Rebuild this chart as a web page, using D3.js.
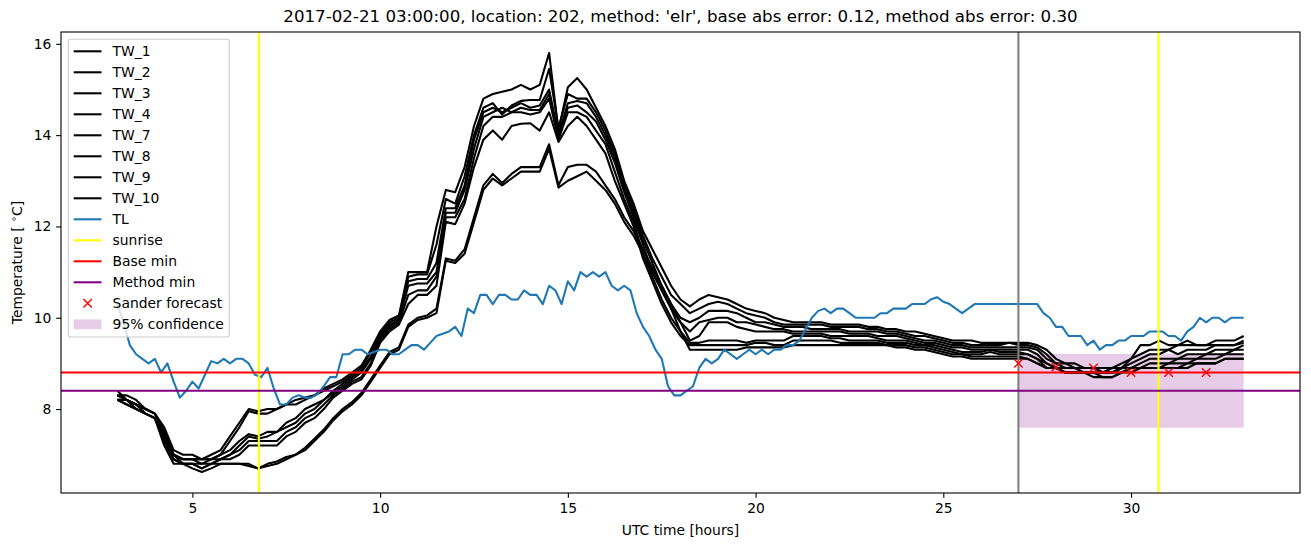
<!DOCTYPE html>
<html><head><meta charset="utf-8">
<script src="https://cdn.jsdelivr.net/npm/d3@7"></script>
<style>body{margin:0;background:#fff;} text{font-family:"DejaVu Sans",sans-serif;fill:#000;}</style>
</head><body><svg id="c" width="1311" height="547"></svg>
<script>
// ---- data ----
const titleText = "2017-02-21 03:00:00, location: 202, method: 'elr', base abs error: 0.12, method abs error: 0.30";
// TL: 10-minute steps from 3:00 to 33:00
const tlValues = [
 10.3,9.9,9.4,9.2,9.1,9.0,
 9.1,8.8,9.0,8.6,8.25,8.4,
 8.6,8.45,8.75,9.05,9.0,9.1,
 9.0,9.1,9.1,9.0,8.75,8.7,
 8.9,8.45,8.1,8.1,8.25,8.3,
 8.25,8.25,8.33,8.5,8.7,8.7,
 9.2,9.2,9.3,9.3,9.2,9.25,
 9.3,9.3,9.2,9.2,9.3,9.4,
 9.4,9.3,9.45,9.6,9.65,9.7,
 9.8,9.6,10.2,10.1,10.5,10.5,
 10.3,10.5,10.5,10.4,10.4,10.6,
 10.5,10.5,10.3,10.7,10.6,10.3,
 10.8,10.6,11.0,10.9,11.0,10.9,
 11.0,10.7,10.6,10.7,10.6,10.1,
 9.8,9.6,9.3,9.1,8.5,8.3,
 8.3,8.4,8.5,8.9,9.1,9.0,
 9.1,9.3,9.2,9.1,9.2,9.3,
 9.2,9.3,9.2,9.3,9.3,9.4,
 9.4,9.5,9.75,10.0,10.15,10.2,
 10.1,10.2,10.2,10.1,10.0,10.0,
 10.0,10.0,10.1,10.1,10.2,10.2,
 10.2,10.3,10.3,10.3,10.4,10.45,
 10.35,10.3,10.2,10.1,10.2,10.3,
 10.3,10.3,10.3,10.3,10.3,10.3,
 10.3,10.3,10.3,10.3,10.1,10.0,
 9.8,9.8,9.6,9.6,9.6,9.4,
 9.5,9.3,9.4,9.4,9.5,9.5,
 9.6,9.6,9.6,9.7,9.7,9.7,
 9.6,9.6,9.5,9.7,9.8,10.0,
 9.9,10.0,10.0,9.9,10.0,10.0,
 10.0];
// TW series: 15-minute steps from 3:00 to 33:00 (one row = one hour)
const tw1 = [
 8.3,8.2,8.1,8.0, 7.9,7.5,7.0,6.9, 6.9,6.9,7.0,7.1, 7.4,7.7,8.0,7.95,
 8.0,8.0,8.1,8.2, 8.25,8.3,8.45,8.55, 8.65,8.8,8.95,9.3, 9.7,9.95,10.05,11.0,
 11.0,11.0,12.0,12.8, 12.75,13.3,14.2,14.8, 14.9,14.95,15.0,15.1, 15.0,15.1,15.8,14.1,
 15.05,15.25,15.0,14.6, 14.2,13.7,13.0,12.5, 11.9,11.5,11.1,10.7, 10.4,10.25,10.4,10.5,
 10.45,10.4,10.3,10.2, 10.15,10.1,10.0,9.95, 9.9,9.9,9.9,9.9, 9.85,9.85,9.85,9.85,
 9.8,9.8,9.75,9.75, 9.7,9.7,9.65,9.6, 9.55,9.5,9.5,9.5, 9.45,9.45,9.45,9.45,
 9.45,9.45,9.4,9.3, 9.1,9.0,9.0,8.9, 8.9,8.9,8.9,9.0, 9.1,9.4,9.4,9.5,
 9.4,9.4,9.5,9.4, 9.4,9.5,9.5,9.5, 9.6];
const tw2 = [
 8.2,8.2,8.1,8.0, 7.9,7.6,7.1,7.0, 7.0,6.9,6.9,7.0, 7.3,7.6,7.95,7.9,
 7.9,8.0,8.1,8.1, 8.2,8.3,8.4,8.5, 8.6,8.75,8.9,9.25, 9.65,9.9,10.0,10.9,
 10.95,10.95,11.6,12.6, 12.5,13.1,14.0,14.6, 14.7,14.45,14.65,14.75, 14.77,14.77,15.45,14.15,
 14.9,14.8,14.8,14.5, 14.1,13.6,12.95,12.4, 11.8,11.3,10.9,10.5, 10.3,10.1,10.2,10.3,
 10.35,10.3,10.2,10.1, 10.05,10.0,9.9,9.85, 9.85,9.85,9.85,9.85, 9.8,9.8,9.8,9.8,
 9.75,9.75,9.7,9.7, 9.65,9.6,9.6,9.55, 9.5,9.45,9.45,9.4, 9.4,9.4,9.4,9.45,
 9.4,9.4,9.35,9.2, 9.0,9.0,8.9,8.9, 8.9,8.8,8.9,8.9, 9.1,9.2,9.3,9.3,
 9.3,9.4,9.4,9.4, 9.4,9.4,9.4,9.4, 9.5];
const tw3 = [
 8.3,8.3,8.2,8.0, 7.9,7.4,7.0,6.9, 6.9,6.8,6.9,7.0, 7.1,7.3,7.45,7.4,
 7.5,7.5,7.7,7.8, 8.0,8.1,8.2,8.4, 8.55,8.7,8.85,9.15, 9.6,9.85,9.95,10.8,
 10.85,10.85,11.2,12.4, 12.4,12.9,13.9,14.5, 14.6,14.5,14.6,14.7, 14.6,14.65,15.0,14.0,
 14.7,14.75,14.7,14.4, 14.0,13.5,12.85,12.3, 11.7,11.2,10.7,10.3, 10.0,9.9,10.0,10.15,
 10.15,10.15,10.1,10.0, 9.9,9.9,9.85,9.8, 9.8,9.8,9.75,9.75, 9.75,9.75,9.7,9.7,
 9.7,9.7,9.65,9.65, 9.6,9.55,9.5,9.5, 9.45,9.4,9.4,9.35, 9.35,9.35,9.35,9.35,
 9.35,9.35,9.3,9.1, 9.0,8.9,8.9,8.9, 8.9,8.8,8.8,8.9, 9.0,9.1,9.2,9.2,
 9.3,9.2,9.3,9.3, 9.3,9.4,9.4,9.4, 9.45];
const tw4 = [
 8.2,8.1,8.0,7.9, 7.8,7.3,6.9,6.8, 6.8,6.8,6.8,6.9, 7.0,7.2,7.4,7.35,
 7.4,7.5,7.6,7.7, 7.9,8.0,8.2,8.35, 8.5,8.65,8.8,9.1, 9.55,9.8,9.95,10.7,
 10.75,10.75,11.0,12.3, 12.3,12.8,13.7,14.4, 14.5,14.6,14.5,14.6, 14.55,14.55,14.9,13.95,
 14.6,14.65,14.5,14.3, 13.9,13.4,12.75,12.2, 11.6,11.0,10.6,10.2, 9.9,9.7,9.9,9.95,
 10.0,10.0,9.9,9.9, 9.85,9.8,9.75,9.75, 9.7,9.7,9.7,9.7, 9.7,9.7,9.65,9.65,
 9.65,9.6,9.6,9.6, 9.55,9.5,9.45,9.45, 9.4,9.35,9.35,9.3, 9.3,9.3,9.3,9.3,
 9.3,9.3,9.2,9.0, 8.9,8.9,8.9,8.8, 8.8,8.8,8.8,8.9, 8.9,9.0,9.1,9.1,
 9.1,9.1,9.2,9.2, 9.2,9.3,9.3,9.3, 9.4];
const tw7 = [
 8.4,8.2,8.1,8.0, 7.9,7.5,7.0,6.9, 6.9,6.9,6.9,6.9, 7.0,7.1,7.3,7.3,
 7.3,7.3,7.5,7.6, 7.8,7.9,8.1,8.3, 8.45,8.6,8.7,9.0, 9.5,9.75,9.9,10.5,
 10.6,10.6,10.9,12.2, 12.2,12.6,13.5,14.2, 14.4,14.4,14.5,14.5, 14.45,14.5,14.8,13.9,
 14.5,14.5,14.4,14.1, 13.8,13.2,12.6,12.1, 11.4,10.9,10.4,10.0, 9.7,9.45,9.45,9.5,
 9.5,9.5,9.5,9.45, 9.5,9.5,9.5,9.5, 9.6,9.6,9.6,9.6, 9.55,9.55,9.5,9.5,
 9.5,9.5,9.45,9.45, 9.45,9.4,9.4,9.35, 9.3,9.25,9.2,9.2, 9.2,9.25,9.2,9.2,
 9.2,9.2,9.1,8.9, 8.9,8.8,8.8,8.8, 8.8,8.8,8.8,8.8, 8.8,8.9,8.9,8.9,
 9.0,9.0,9.0,9.1, 9.1,9.1,9.2,9.2, 9.2];
const tw8 = [
 8.2,8.2,8.1,7.9, 7.8,7.4,7.0,6.8, 6.8,6.7,6.8,6.9, 6.9,7.0,7.2,7.2,
 7.2,7.2,7.4,7.5, 7.7,7.8,8.0,8.25, 8.4,8.55,8.65,8.95, 9.45,9.7,9.85,10.3,
 10.5,10.5,10.7,12.1, 12.05,12.5,13.3,13.9, 14.1,13.9,14.2,14.25, 14.26,14.1,14.5,13.85,
 14.2,14.4,14.2,13.9, 13.6,13.0,12.5,12.0, 11.3,10.8,10.3,9.9, 9.6,9.4,9.4,9.4,
 9.4,9.4,9.4,9.4, 9.45,9.45,9.4,9.4, 9.5,9.5,9.5,9.5, 9.5,9.45,9.45,9.45,
 9.45,9.45,9.4,9.4, 9.4,9.35,9.35,9.3, 9.25,9.2,9.2,9.15, 9.15,9.15,9.15,9.15,
 9.15,9.1,9.0,8.9, 8.9,8.8,8.8,8.8, 8.7,8.7,8.7,8.8, 8.9,8.9,8.9,8.9,
 8.9,8.9,9.0,9.0, 9.0,9.0,9.1,9.1, 9.1];
const tw9 = [
 8.3,8.2,8.0,7.9, 7.8,7.3,6.9,6.8, 6.8,6.7,6.8,6.8, 6.8,6.8,6.8,6.7,
 6.8,6.85,6.95,7.0, 7.15,7.35,7.55,7.8, 8.0,8.15,8.35,8.65, 8.95,9.25,9.35,9.85,
 10.0,10.05,10.2,11.3, 11.25,11.5,12.2,12.9, 13.15,12.95,13.15,13.3, 13.3,13.3,13.8,12.9,
 13.3,13.35,13.35,13.2, 12.9,12.6,12.2,11.9, 11.5,11.1,10.7,10.3, 9.9,9.5,9.6,9.9,
 9.9,9.9,9.8,9.75, 9.7,9.7,9.7,9.7, 9.65,9.65,9.65,9.65, 9.6,9.6,9.6,9.6,
 9.6,9.55,9.5,9.5, 9.5,9.45,9.4,9.4, 9.35,9.3,9.25,9.25, 9.25,9.3,9.25,9.25,
 9.25,9.2,9.1,9.0, 8.9,8.8,8.8,8.8, 8.8,8.7,8.7,8.8, 8.9,8.9,9.0,9.0,
 9.0,9.1,9.1,9.1, 9.2,9.2,9.2,9.3, 9.3];
const tw10 = [
 8.2,8.1,8.0,7.9, 7.8,7.2,6.8,6.8, 6.7,6.62,6.7,6.8, 6.8,6.8,6.75,6.7,
 6.75,6.8,6.9,7.0, 7.1,7.3,7.5,7.75, 7.95,8.1,8.3,8.6, 8.9,9.2,9.3,9.8,
 9.95,10.0,10.1,11.25, 11.2,11.4,12.1,12.8, 13.05,12.9,13.05,13.2, 13.2,13.2,13.7,12.85,
 13.0,13.1,13.2,13.0, 12.8,12.5,12.1,11.8, 11.4,11.0,10.6,10.2, 9.7,9.3,9.3,9.3,
 9.3,9.3,9.3,9.35, 9.35,9.35,9.35,9.35, 9.4,9.4,9.4,9.4, 9.4,9.4,9.4,9.4,
 9.4,9.4,9.4,9.35, 9.35,9.3,9.3,9.25, 9.2,9.15,9.15,9.1, 9.1,9.1,9.1,9.1,
 9.1,9.1,9.0,8.9, 8.9,8.8,8.8,8.8, 8.8,8.8,8.8,8.9, 8.9,8.9,8.9,8.9,
 8.9,8.9,8.9,9.0, 9.0,9.0,9.1,9.1, 9.1];
const twLabels = ["TW_1","TW_2","TW_3","TW_4","TW_7","TW_8","TW_9","TW_10"];
const twSeries = [tw1, tw2, tw3, tw4, tw7, tw8, tw9, tw10];
const sunriseHours = [6.77, 30.73];
const forecastHour = 27;
const baseMin = 8.8;
const methodMin = 8.4;
const sanderHours = [27, 28, 29, 30, 31, 32];
const sanderValues = [9.0, 8.92, 8.9, 8.8, 8.8, 8.8];
const confHours = [27, 33];
const confLow = 7.59, confHigh = 9.21;
const xTicks = [5, 10, 15, 20, 25, 30];
const yTicks = [8, 10, 12, 14, 16];
const legendLabels = [...twLabels, "TL", "sunrise", "Base min", "Method min", "Sander forecast", "95% confidence"];

// ---- layout ----
const W = 1311, H = 547;
const L = 61, R = 1300, T = 32, B = 493;
const lw = 2.08;
const fs = 13.89;

const tlHours = tlValues.map((_, i) => 3 + i / 6);
const twHours = tw1.map((_, i) => 3 + i / 4);

const xExt = d3.extent([...tlHours, ...twHours]);
const allY = [...tlValues, ...twSeries.flat(), confLow, confHigh, ...sanderValues];
const yExt = d3.extent(allY);
const xPad = (xExt[1] - xExt[0]) * 0.05, yPad = (yExt[1] - yExt[0]) * 0.05;
const x = d3.scaleLinear().domain([xExt[0] - xPad, xExt[1] + xPad]).range([L, R]);
const y = d3.scaleLinear().domain([yExt[0] - yPad, yExt[1] + yPad]).range([B, T]);

const svg = d3.select("#c");
svg.append("rect").attr("width", W).attr("height", H).attr("fill", "#fff");
svg.append("defs").append("clipPath").attr("id", "clip")
  .append("rect").attr("x", L).attr("y", T).attr("width", R - L).attr("height", B - T);
const g = svg.append("g").attr("clip-path", "url(#clip)");

// confidence band
g.append("path")
  .datum(confHours)
  .attr("d", d3.area().x(d => x(d)).y0(y(confLow)).y1(y(confHigh)))
  .attr("fill", "#800080").attr("fill-opacity", 0.2);

const line = d3.line().x(d => x(d[0])).y(d => y(d[1]));
twSeries.forEach(s => {
  g.append("path").datum(s.map((v, i) => [twHours[i], v]))
    .attr("d", line).attr("fill", "none").attr("stroke", "#000")
    .attr("stroke-width", lw).attr("stroke-linejoin", "round").attr("stroke-linecap", "butt");
});
g.append("path").datum(tlValues.map((v, i) => [tlHours[i], v]))
  .attr("d", line).attr("fill", "none").attr("stroke", "#1f77b4")
  .attr("stroke-width", lw).attr("stroke-linejoin", "round");

// gray forecast line
g.append("line").attr("x1", x(forecastHour)).attr("x2", x(forecastHour)).attr("y1", T).attr("y2", B)
  .attr("stroke", "#808080").attr("stroke-width", lw);
sunriseHours.forEach(h => {
  g.append("line").attr("x1", x(h)).attr("x2", x(h)).attr("y1", T).attr("y2", B)
    .attr("stroke", "#ffff00").attr("stroke-width", lw);
});
g.append("line").attr("x1", L).attr("x2", R).attr("y1", y(baseMin)).attr("y2", y(baseMin))
  .attr("stroke", "#ff0000").attr("stroke-width", lw);
g.append("line").attr("x1", L).attr("x2", R).attr("y1", y(methodMin)).attr("y2", y(methodMin))
  .attr("stroke", "#800080").attr("stroke-width", lw);

const xm = 4.2;
function xMark(sel, cx, cy) {
  sel.append("path").attr("d", `M${cx - xm},${cy - xm}L${cx + xm},${cy + xm}M${cx - xm},${cy + xm}L${cx + xm},${cy - xm}`)
    .attr("stroke", "#ff0000").attr("stroke-width", 1.4).attr("fill", "none");
}
sanderHours.forEach((h, i) => xMark(g, x(h), y(sanderValues[i])));

// axes frame
svg.append("rect").attr("x", L).attr("y", T).attr("width", R - L).attr("height", B - T)
  .attr("fill", "none").attr("stroke", "#000").attr("stroke-width", 1.1);

// ticks
const tickLen = 4.86, pad = 4.86;
const xAxis = d3.axisBottom(x).tickValues(xTicks).tickSize(tickLen).tickPadding(pad);
const gx = svg.append("g").attr("transform", `translate(0,${B})`).call(xAxis);
gx.select(".domain").remove();
gx.selectAll("line").attr("stroke", "#000").attr("stroke-width", 1.1);
gx.selectAll("text").attr("font-size", fs).attr("font-family", "DejaVu Sans").attr("fill", "#000").attr("dy", "0.71em");

const yAxis = d3.axisLeft(y).tickValues(yTicks).tickSize(tickLen).tickPadding(pad);
const gy = svg.append("g").attr("transform", `translate(${L},0)`).call(yAxis);
gy.select(".domain").remove();
gy.selectAll("line").attr("stroke", "#000").attr("stroke-width", 1.1);
gy.selectAll("text").attr("font-size", fs).attr("font-family", "DejaVu Sans").attr("fill", "#000");

// labels
svg.append("text").attr("x", (L + R) / 2).attr("y", 22).attr("text-anchor", "middle")
  .attr("font-size", 16.67).text(titleText);
svg.append("text").attr("x", (L + R) / 2).attr("y", 535).attr("text-anchor", "middle")
  .attr("font-size", fs).text("UTC time [hours]");
const yl = svg.append("text").attr("transform", `translate(22,${(T + B) / 2}) rotate(-90)`)
  .attr("text-anchor", "middle").attr("font-size", fs);
yl.append("tspan").text("Temperature [ ");
yl.append("tspan").attr("font-size", fs * 0.7).attr("dy", -5).text("∘");
yl.append("tspan").attr("dy", 5).text("C]");

// legend
const lg = svg.append("g");
lg.append("rect").attr("x", 68.3).attr("y", 39.3).attr("width", 161).attr("height", 297.7)
  .attr("rx", 2.8).attr("fill", "#fff").attr("fill-opacity", 0.8).attr("stroke", "#cccccc").attr("stroke-width", 1.1);
const hx0 = 73.7, hx1 = 101.5, tx = 112.6, ly0 = 51.3, dy = 21.0;
const handleColors = ["#000","#000","#000","#000","#000","#000","#000","#000","#1f77b4","#ffff00","#ff0000","#800080"];
legendLabels.forEach((lab, i) => {
  const cy = ly0 + i * dy;
  if (i < handleColors.length) {
    lg.append("line").attr("x1", hx0).attr("x2", hx1).attr("y1", cy).attr("y2", cy)
      .attr("stroke", handleColors[i]).attr("stroke-width", lw);
  } else if (lab === "Sander forecast") {
    xMark(lg, (hx0 + hx1) / 2, cy);
  } else {
    lg.append("rect").attr("x", hx0).attr("y", cy - 4.9).attr("width", hx1 - hx0).attr("height", 9.8)
      .attr("fill", "#800080").attr("fill-opacity", 0.2);
  }
  lg.append("text").attr("x", tx).attr("y", cy + 5).attr("font-size", fs).text(lab);
});
</script></body></html>
